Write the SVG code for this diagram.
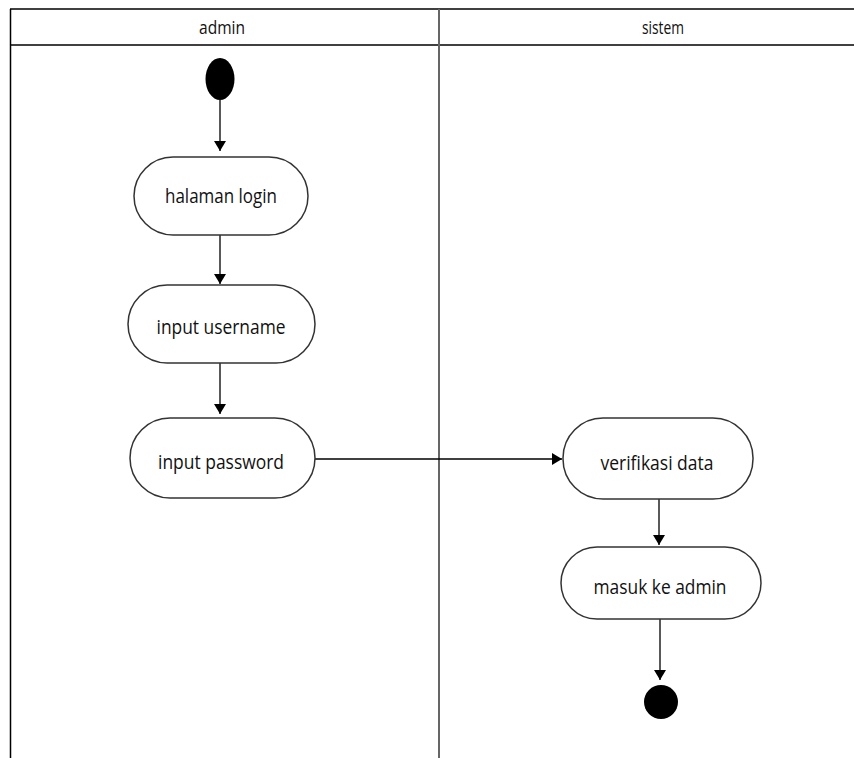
<svg xmlns="http://www.w3.org/2000/svg" width="854" height="758" viewBox="0 0 854 758">
  <style>
    .lane { stroke: #000; stroke-width: 1.5; fill: none; }
    .divider { stroke: #666; stroke-width: 2; fill: none; }
    .act { fill: #fff; stroke: #333; stroke-width: 1.5; }
    .lbl { font-family: "Open Sans", "Liberation Sans", sans-serif; font-size: 20px; fill: #111; text-anchor: middle; }
    .hdr { font-family: "Open Sans", "Liberation Sans", sans-serif; font-size: 18px; fill: #111; text-anchor: middle; }
    .flow { stroke: #000; stroke-width: 1.3; fill: none; marker-end: url(#arrow); }
  </style>
  <defs>
    <marker id="arrow" markerWidth="10" markerHeight="12" refX="10" refY="6" orient="auto" markerUnits="userSpaceOnUse">
      <path d="M0,0 L10,6 L0,12 Z" fill="#000"/>
    </marker>
  </defs>

  <rect width="854" height="758" fill="#fff"/>

  <!-- swimlane frame -->
  <g id="swimlanes">
    <line class="lane" x1="10" y1="9" x2="854" y2="9"/>
    <line class="lane" x1="10" y1="45" x2="854" y2="45"/>
    <line class="lane" x1="10.5" y1="9" x2="10.5" y2="758"/>
    <line class="divider" x1="439" y1="9" x2="439" y2="758"/>
    <text class="hdr" x="222" y="34" textLength="46" lengthAdjust="spacingAndGlyphs">admin</text>
    <text class="hdr" x="663" y="34" textLength="42" lengthAdjust="spacingAndGlyphs">sistem</text>
  </g>

  <!-- connectors -->
  <g id="connectors">
    <line class="flow" x1="220" y1="100" x2="220" y2="151"/>
    <line class="flow" x1="220" y1="235" x2="220" y2="284"/>
    <line class="flow" x1="220" y1="363" x2="220" y2="414"/>
    <line class="flow" x1="315" y1="459" x2="562" y2="459"/>
    <line class="flow" x1="659" y1="499" x2="659" y2="545"/>
    <line class="flow" x1="660" y1="619" x2="660" y2="680"/>
  </g>

  <g id="start">
    <ellipse cx="220" cy="79" rx="14.5" ry="21" fill="#000"/>
  </g>

  <g id="halaman-login">
    <rect class="act" x="134" y="157" width="174" height="78" rx="39"/>
    <text class="lbl" x="221" y="203" textLength="112" lengthAdjust="spacingAndGlyphs">halaman login</text>
  </g>

  <g id="input-username">
    <rect class="act" x="128" y="285" width="187" height="78" rx="39"/>
    <text class="lbl" x="221" y="334" textLength="129" lengthAdjust="spacingAndGlyphs">input username</text>
  </g>

  <g id="input-password">
    <rect class="act" x="130" y="418" width="185" height="80" rx="40"/>
    <text class="lbl" x="221" y="469" textLength="126" lengthAdjust="spacingAndGlyphs">input password</text>
  </g>

  <g id="verifikasi-data">
    <rect class="act" x="563" y="418" width="190" height="81" rx="40"/>
    <text class="lbl" x="657" y="470" textLength="113" lengthAdjust="spacingAndGlyphs">verifikasi data</text>
  </g>

  <g id="masuk-ke-admin">
    <rect class="act" x="561" y="547" width="200" height="72" rx="36"/>
    <text class="lbl" x="660" y="594" textLength="133" lengthAdjust="spacingAndGlyphs">masuk ke admin</text>
  </g>

  <g id="end">
    <circle cx="661" cy="702" r="17" fill="#000"/>
  </g>
</svg>
